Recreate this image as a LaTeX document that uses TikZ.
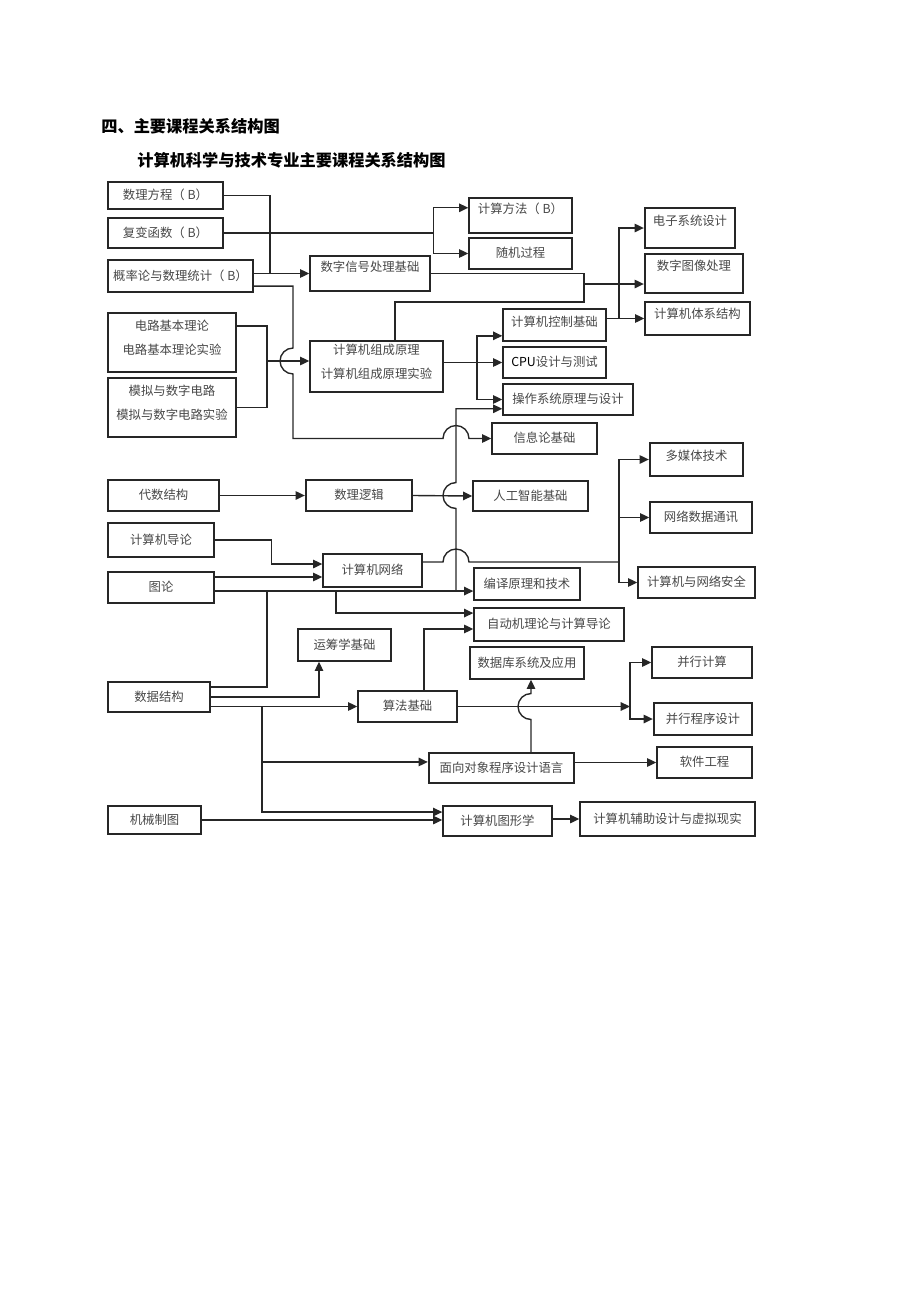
\documentclass[tikz,border=0pt]{standalone}
\usepackage{fontspec}
\setmainfont{Noto Sans CJK SC}
\usepackage{tikz}
\usetikzlibrary{arrows.meta,positioning}

\newcommand\lowstrut{\rule[-6.8pt]{0pt}{6.8pt}}

\tikzset{
  box/.style={draw=black!85, line width=0.9pt, inner sep=0pt, text=black!72,
    text height=6.8pt, text depth=1.6pt, font=\fontsize{8pt}{10pt}\selectfont},
  heavybox/.style={box, line width=1.5pt},
  boxsize/.style 2 args={minimum width=#1*0.647pt, minimum height=#2*0.647pt},
  twoline/.style={align=center, text height={}, text depth={}, font=\fontsize{8pt}{15pt}\selectfont},
  liftup/.style={text depth=#1},
  conn/.style={draw=black!85, line width=0.9pt},
  connarrow/.style={conn, -{Triangle[length=6pt,width=5.5pt]}},
  heading/.style={anchor=west, inner sep=0pt, font=\fontsize{10.5pt}{12pt}\selectfont\bfseries}
}

\begin{document}
\begin{tikzpicture}[x=0.647pt,y=-0.647pt]
\useasboundingbox (0,0) rectangle (920,1303);

% headings
\node[heading] (head) at (101,126) {四、主要课程关系结构图};
\node[heading] (title) at (137,160) {计算机科学与技术专业主要课程关系结构图};

% courses
\node[box, boxsize={115}{27}] (slfc) at (165.5,195.5) {数理方程（ B）};
\node[box, boxsize={115}{30}] (fbhs) at (165.5,233) {复变函数（ B）};
\node[box, boxsize={145}{32}] (gll) at (180.5,276) {概率论与数理统计（ B）};
\node[box, boxsize={120}{35}, liftup=8.8pt] (szxh) at (370,273.5) {数字信号处理基础};
\node[box, boxsize={103}{35}, liftup=8.8pt] (jsff) at (520.5,215.5) {计算方法（ B）};
\node[box, boxsize={103}{31}] (sjgc) at (520.5,253.5) {随机过程};
\node[heavybox, boxsize={90}{40}, liftup=10.6pt] (dzxt) at (690,228) {电子系统设计};
\node[heavybox, boxsize={98}{39}, liftup=11.3pt] (txcl) at (694,273.5) {数字图像处理};
\node[box, boxsize={105}{33}, liftup=7.4pt] (tixi) at (697.5,318.5) {计算机体系结构};
\node[box, boxsize={103}{32}, liftup=5.5pt] (kzjc) at (554.5,325) {计算机控制基础};
\node[box, boxsize={103}{31}] (cpu) at (554.5,362.5) {{\color{black}CPU}设计与测试};
\node[box, boxsize={130}{31}] (czxt) at (568,399.5) {操作系统原理与设计};
\node[box, boxsize={105}{31}] (xxl) at (544.5,438.5) {信息论基础};
\node[box, twoline, boxsize={133}{51}] (zcyl) at (376.5,366.5) {计算机组成原理\\计算机组成原理实验\lowstrut};
\node[box, twoline, boxsize={128}{59}] (dljb) at (172,342.5) {电路基本理论\\电路基本理论实验\lowstrut};
\node[box, twoline, boxsize={128}{59}] (mnsz) at (172,407.5) {模拟与数字电路\\模拟与数字电路实验\lowstrut};
\node[heavybox, boxsize={111}{31}] (dsjg) at (163.5,495.5) {代数结构};
\node[heavybox, boxsize={106}{31}] (sllj) at (359,495.5) {数理逻辑};
\node[box, boxsize={115}{30}] (rgzn) at (530.5,496) {人工智能基础};
\node[heavybox, boxsize={93}{33}, liftup=6.1pt] (dmt) at (696.5,459.5) {多媒体技术};
\node[box, boxsize={102}{31}] (wltx) at (701,517.5) {网络数据通讯};
\node[box, boxsize={117}{31}] (aq) at (696.5,582.5) {计算机与网络安全};
\node[box, boxsize={106}{34}] (dl) at (161,540) {计算机导论};
\node[box, boxsize={106}{31}] (tl) at (161,587.5) {图论};
\node[box, boxsize={99}{33}] (wl) at (372.5,570.5) {计算机网络};
\node[box, boxsize={106}{32}] (byyl) at (527,584) {编译原理和技术};
\node[box, boxsize={150}{33}] (zdj) at (549,624.5) {自动机理论与计算导论};
\node[box, boxsize={93}{32}] (ycx) at (344.5,645) {运筹学基础};
\node[box, boxsize={114}{32}] (sjk) at (527,663) {数据库系统及应用};
\node[box, boxsize={102}{30}] (sjjg) at (159,697) {数据结构};
\node[box, boxsize={99}{31}] (sfjc) at (407.5,706.5) {算法基础};
\node[box, boxsize={100}{31}] (bxjs) at (702,662.5) {并行计算};
\node[heavybox, boxsize={98}{32}] (bxcx) at (703,719) {并行程序设计};
\node[heavybox, boxsize={145}{30}] (mxdx) at (501.5,768) {面向对象程序设计语言};
\node[box, boxsize={95}{31}] (rjgc) at (704.5,762.5) {软件工程};
\node[box, boxsize={93}{28}] (jxzt) at (154.5,820) {机械制图};
\node[box, boxsize={109}{30}] (txx) at (497.5,821) {计算机图形学};
\node[box, boxsize={175}{34}] (fzsj) at (667.5,819) {计算机辅助设计与虚拟现实};

% junctions
\coordinate (p1) at (270,273.5);
\coordinate (p2) at (584,284);
\coordinate (p3) at (584,302);
\coordinate (p4) at (619,318.5);
\coordinate (p5) at (267,361);
\coordinate (p6) at (477,362.5);
\coordinate (g1) at (267,591);
\coordinate (g2) at (336,591);
\coordinate (g3) at (456,591);
\coordinate (k1) at (630,706.5);
\coordinate (k2) at (619,562);
\coordinate (d1) at (262,706.5);

% maths group
\draw[conn] (slfc.east) -| (p1);
\draw[connarrow] (gll.east |- szxh.west) -- (szxh.west);
\draw[connarrow] (fbhs.east) -- ++(210,0) |- ([yshift=5pt]jsff.west);
\draw[connarrow] (fbhs.east) ++(210,0) |- (sjgc.west);

% signals and organisation
\draw[conn] (szxh.east) -| (p2);
\draw[conn] ([xshift=12pt]zcyl.north) |- (p3) -- (p2);
\draw[connarrow] (p2) -- (p2 -| txcl.west);
\draw[connarrow] (kzjc.east |- tixi.west) -- (tixi.west);
\draw[connarrow] (p4) |- (dzxt.west);

% circuits
\draw[conn] ([yshift=10.7pt]dljb.east) -| (p5);
\draw[conn] (mnsz.east) -| (p5);
\draw[connarrow] (p5) -- (p5 -| zcyl.west);
\draw[connarrow] ([yshift=-6.5pt]gll.east) -| (293,348)
  arc[start angle=90,end angle=270,radius=8.4pt] |- (443,438.5)
  arc[start angle=180,end angle=0,radius=8.4pt] -- (xxl.west);
\draw[connarrow] (zcyl.east |- cpu.west) -- (cpu.west);
\draw[connarrow] (p6) |- ([yshift=-7pt]kzjc.west);
\draw[connarrow] (p6) |- (czxt.west);

% logic
\draw[connarrow] (dsjg.east) -- (sllj.west);
\draw[connarrow] (sllj.east) -- (rgzn.west);

% graph theory
\draw[connarrow] (dl.east) -- ++(57,0) |- ([yshift=4.2pt]wl.west);
\draw[connarrow] ([yshift=6.8pt]tl.east) -- ([yshift=6.8pt]tl.east -| wl.west);
\draw[connarrow] ([yshift=-2.3pt]tl.east) -- ([yshift=-2.3pt]tl.east -| byyl.west);
\draw[conn] ([yshift=6.5pt]sjjg.east) -| (g1);
\draw[connarrow] (g2) |- ([yshift=7.4pt]zdj.west);
\draw[connarrow] (g3) -- (456,508.5) arc[start angle=270,end angle=90,radius=8.4pt]
  |- ([yshift=-6pt]czxt.west);

% network
\draw[conn] ([yshift=5.5pt]wl.east) -- (443,562)
  arc[start angle=180,end angle=0,radius=8.4pt] -- (k2);
\draw[connarrow] (k2) |- (dmt.west);
\draw[connarrow] (k2) |- (wltx.west);
\draw[connarrow] (k2) |- (aq.west);

% data structures
\draw[connarrow] (sjjg.east) -| ([xshift=-16.5pt]ycx.south);
\draw[connarrow] (sjjg.east |- sfjc.west) -- (sfjc.west);
\draw[connarrow] (d1) |- ([yshift=3.9pt]mxdx.west);
\draw[connarrow] (d1) |- ([yshift=5.8pt]txx.west);
\draw[connarrow] (jxzt.east) -- (jxzt.east -| txx.west);

% algorithms
\draw[connarrow] ([xshift=10.7pt]sfjc.north) |- ([yshift=-2.9pt]zdj.west);
\draw[connarrow] (sfjc.east) -- (k1);
\draw[connarrow] (k1) |- (bxjs.west);
\draw[connarrow] (k1) |- (bxcx.west);
\draw[connarrow] ([xshift=19.1pt]mxdx.north) -- (531,719.5)
  arc[start angle=270,end angle=90,radius=8.4pt] -- ([xshift=2.6pt]sjk.south);
\draw[connarrow] (mxdx.east |- rjgc.west) -- (rjgc.west);
\draw[connarrow] (txx.east |- fzsj.west) -- (fzsj.west);
\end{tikzpicture}
\end{document}
